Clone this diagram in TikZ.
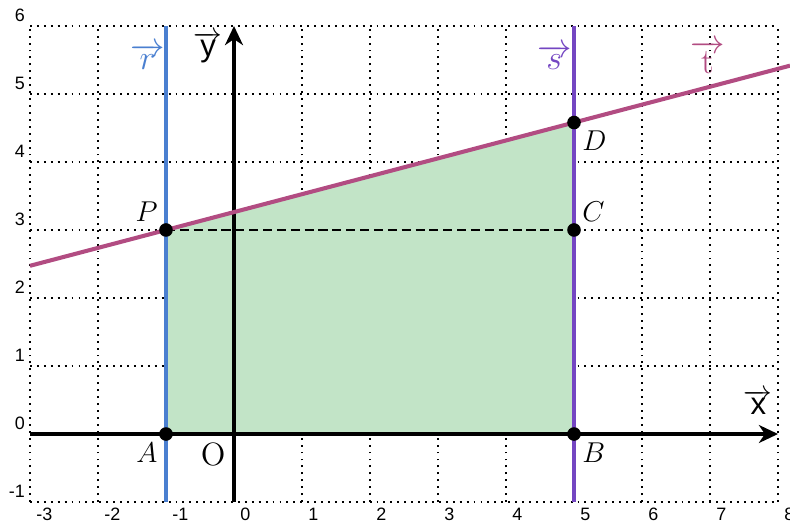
\documentclass[tikz,border=0pt]{standalone}
\usepackage{fontspec}
\setsansfont{Liberation Sans}
\usetikzlibrary{arrows.meta, positioning, calc}
\definecolor{Ink}{HTML}{000000}
\definecolor{RBlue}{HTML}{4A7FD0}
\definecolor{SPurple}{HTML}{7446C2}
\definecolor{TRose}{HTML}{B24C82}
\definecolor{Shade}{HTML}{C2E4C7}

\begin{document}
\begin{tikzpicture}[
        gridline/.style={line width=0.8pt, dash pattern=on 0.8pt off 2.1pt},
        axis/.style={-{Stealth[length=8pt, width=7.5pt, inset=2.5pt]}, line width=1.5pt, color=Ink},
        vline/.style={line width=1.3pt},
        tline/.style={line width=1.7pt, color=TRose},
        helper/.style={line width=0.8pt, dash pattern=on 3.8pt off 2pt},
        dot/.style={circle, fill=Ink, inner sep=0pt, minimum size=0.2cm},
        tick/.style={font=\sffamily\fontsize{7.5}{9}\selectfont, inner sep=0pt},
        ptlabel/.style={font=\fontsize{12.5}{14}\selectfont},
        veclabel/.style={font=\fontsize{15}{17}\selectfont, inner sep=1pt}
    ]
    \useasboundingbox (-3.441,-1.324) rectangle (8.176,6.382);

    % grid and tick labels
    \draw[gridline] (-3,-1) grid (8,6);
    \foreach \x [count=\i] in {-3,...,8}
        \node[tick, anchor=north west] (tx\i) at ([xshift=2.5pt, yshift=-2.5pt]\x,-1) {\x};
    \foreach \y [count=\i] in {-1,...,6}
        \node[tick, anchor=south east] (ty\i) at ([xshift=-2pt, yshift=1.5pt]-3,\y) {\y};

    % points
    \coordinate (O) at (0,0);
    \coordinate (A) at (-1,0);
    \coordinate (B) at (5,0);
    \coordinate (P) at (-1,3);
    \coordinate (C) at (5,3);
    \coordinate (D) at (5,4.58);
    \coordinate (rbot) at (-1,-1);
    \coordinate (rtop) at (-1,6);
    \coordinate (sbot) at (5,-1);
    \coordinate (stop) at (5,6);
    \coordinate (tL) at ($(P)!-0.33333!(D)$);
    \coordinate (tR) at ($(P)!1.52933!(D)$);

    % area under t
    \fill[Shade] (A) -- (B) -- (D) -- (P) -- cycle;
    \draw[helper] (P) -- (C);

    % vertical lines r and s
    \draw[vline, RBlue] (rbot) -- (rtop);
    \draw[vline, SPurple] (sbot) -- (stop);

    % axes
    \draw[axis] (-3,0) -- (8,0);
    \draw[axis] (0,-1) -- (0,6);

    % line t
    \draw[tline] (tL) -- (tR);

    \foreach \p in {A,B,C,D,P}
        \node[dot] (d\p) at (\p) {};

    % labels
    \node[ptlabel, above left] (lP) at (P) {$P$};
    \node[ptlabel, above right] (lC) at (C) {$C$};
    \node[ptlabel, below right] (lD) at (D) {$D$};
    \node[ptlabel, below left] (lA) at (A) {$A$};
    \node[ptlabel, below right] (lB) at (B) {$B$};
    \node[font=\fontsize{13.5}{15}\selectfont, below left] (lO) at (O) {O};

    \node[veclabel, text=RBlue] (lr) at (-1.27,5.55) {$\overrightarrow{r}$};
    \node[veclabel, font=\fontsize{13}{15}\selectfont] (ly) at (-0.38,5.68) {$\overrightarrow{\textsf{y}}$};
    \node[veclabel, text=SPurple] (ls) at (4.71,5.54) {$\overrightarrow{s}$};
    \node[veclabel, text=TRose] (lt) at (6.97,5.54) {$\overrightarrow{\mathrm{t}}$};
    \node[veclabel, font=\fontsize{13}{15}\selectfont] (lx) at (7.71,0.47) {$\overrightarrow{\textsf{x}}$};
\end{tikzpicture}
\end{document}
